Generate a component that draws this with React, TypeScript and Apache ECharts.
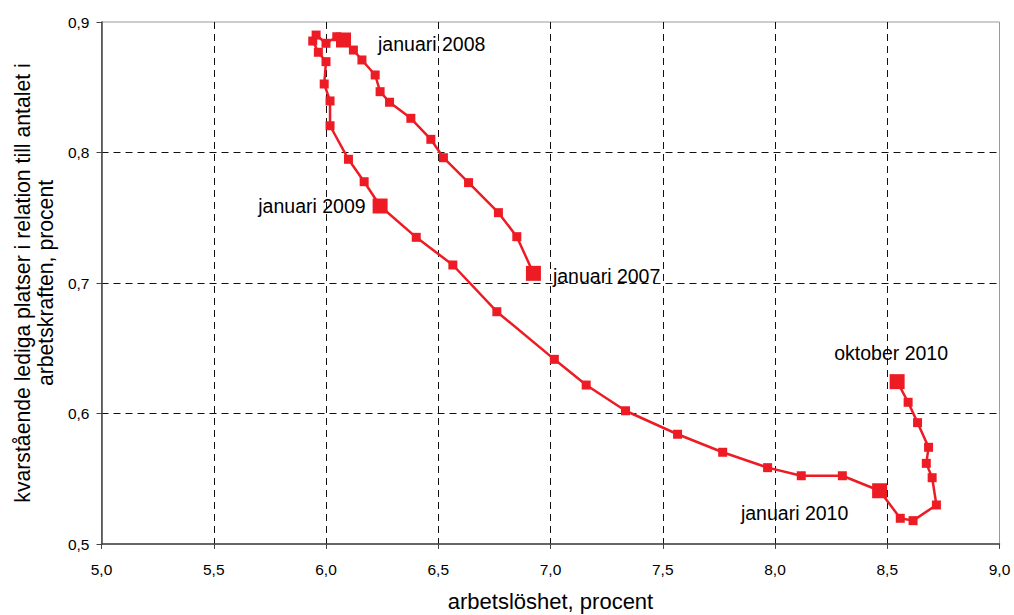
import React, { useEffect, useRef } from "react";
import * as echarts from "echarts";

// Monthly observations, januari 2007 – oktober 2010
const unemployment = [
  6.924, 6.85, 6.768, 6.635, 6.523, 6.467, 6.378, 6.283, 6.241, 6.219, 6.16, 6.122,
  6.078, 6.048, 6.0, 5.956, 5.941, 5.966, 6.0, 5.992, 6.018, 6.018, 6.1, 6.17,
  6.241, 6.402, 6.565, 6.761, 7.017, 7.159, 7.334, 7.566, 7.767, 7.967, 8.117, 8.3,
  8.466, 8.558, 8.615, 8.719, 8.7, 8.674, 8.684, 8.635, 8.593, 8.544,
];
const vacancies = [
  0.7074, 0.7355, 0.7539, 0.7769, 0.796, 0.8101, 0.8262, 0.8385, 0.8466, 0.8594, 0.8709, 0.8785,
  0.8862, 0.8887, 0.8837, 0.89, 0.8854, 0.8768, 0.8696, 0.8525, 0.8395, 0.8205, 0.7948, 0.7776,
  0.759, 0.735, 0.7138, 0.678, 0.6415, 0.6218, 0.6021, 0.5841, 0.5703, 0.5585, 0.5523, 0.5523,
  0.5408, 0.5197, 0.5179, 0.5299, 0.5508, 0.5618, 0.5741, 0.593, 0.6086, 0.6244,
];
const markedIndices = [0, 12, 24, 36, 45];
const markedLabels = ["januari 2007", "januari 2008", "januari 2009", "januari 2010", "oktober 2010"];
const xTicks = [5.0, 9.0, 0.5];
const yTicks = [0.5, 0.9, 0.1];
const xTitle = "arbetslöshet, procent";
const yTitle = "kvarstående lediga platser i relation till antalet i\narbetskraften, procent";

// label placement (styling only)
const labelPlacement: Record<number, any> = {
  0: { position: "right", distance: 12, offset: [0, 3] },
  12: { position: "right", distance: 27, offset: [0, 4] },
  24: { position: "left", distance: 7, offset: [0, 0] },
  36: { position: "bottom", distance: 5, offset: [-85, 0] },
  45: { position: "top", distance: 11, offset: [-6, 0] },
};

const FONT = "'Liberation Sans', Arial, sans-serif";
const RED = "#ED1C24";
const fmt = (v: number) => v.toFixed(1).replace(".", ",");

export default function App() {
  const ref = useRef<HTMLDivElement>(null);
  useEffect(() => {
    if (!ref.current) return;
    const chart = echarts.init(ref.current, undefined, { renderer: "svg" });
    const data = unemployment.map((x, i) => {
      const k = markedIndices.indexOf(i);
      const item: any = { value: [x, vacancies[i]] };
      if (k >= 0) {
        item.symbolSize = 15;
        item.label = {
          show: true,
          formatter: markedLabels[k],
          fontSize: 19.5,
          fontFamily: FONT,
          color: "#000",
          ...labelPlacement[i],
        };
      }
      return item;
    });
    const dash = { color: "#111", width: 1, type: [7, 5] as any };
    chart.setOption({
      animation: false,
      backgroundColor: "#fff",
      grid: {
        left: 101.5,
        right: 14.5,
        top: 22,
        bottom: 71,
        outerBoundsMode: "none",
        containLabel: false,
        show: true,
        borderColor: "#999",
        borderWidth: 1,
        backgroundColor: "transparent",
      },
      xAxis: {
        type: "value",
        min: xTicks[0],
        max: xTicks[1],
        interval: xTicks[2],
        name: xTitle,
        nameLocation: "middle",
        nameGap: 46,
        nameTextStyle: { fontSize: 22, fontFamily: FONT, color: "#000" },
        axisLine: { show: true, lineStyle: { color: "#444", width: 1.5 } },
        axisTick: { show: true, length: 5, lineStyle: { color: "#444" } },
        axisLabel: { formatter: fmt, fontSize: 15.5, fontFamily: FONT, color: "#000", margin: 17 },
        splitLine: { show: true, showMinLine: false, showMaxLine: false, lineStyle: dash },
      },
      yAxis: {
        type: "value",
        min: yTicks[0],
        max: yTicks[1],
        interval: yTicks[2],
        name: yTitle,
        nameLocation: "middle",
        nameRotate: 90,
        nameGap: 45,
        nameTextStyle: { fontSize: 21.2, lineHeight: 23, fontFamily: FONT, color: "#000", align: "center" },
        axisLine: { show: true, lineStyle: { color: "#444", width: 1.5 } },
        axisTick: { show: true, length: 5, lineStyle: { color: "#444" } },
        axisLabel: { formatter: fmt, fontSize: 15.5, fontFamily: FONT, color: "#000", margin: 12 },
        splitLine: { show: true, showMinLine: false, showMaxLine: false, lineStyle: dash },
      },
      series: [
        {
          type: "line",
          data,
          symbol: "rect",
          symbolSize: 9,
          lineStyle: { color: RED, width: 2.5 },
          itemStyle: { color: RED },
          label: { show: false },
          z: 5,
        },
      ],
    });
    return () => chart.dispose();
  }, []);
  return (
    <div
      ref={ref}
      style={{ position: "fixed", left: 0, top: 0, width: 1014, height: 615, background: "#fff" }}
    />
  );
}
